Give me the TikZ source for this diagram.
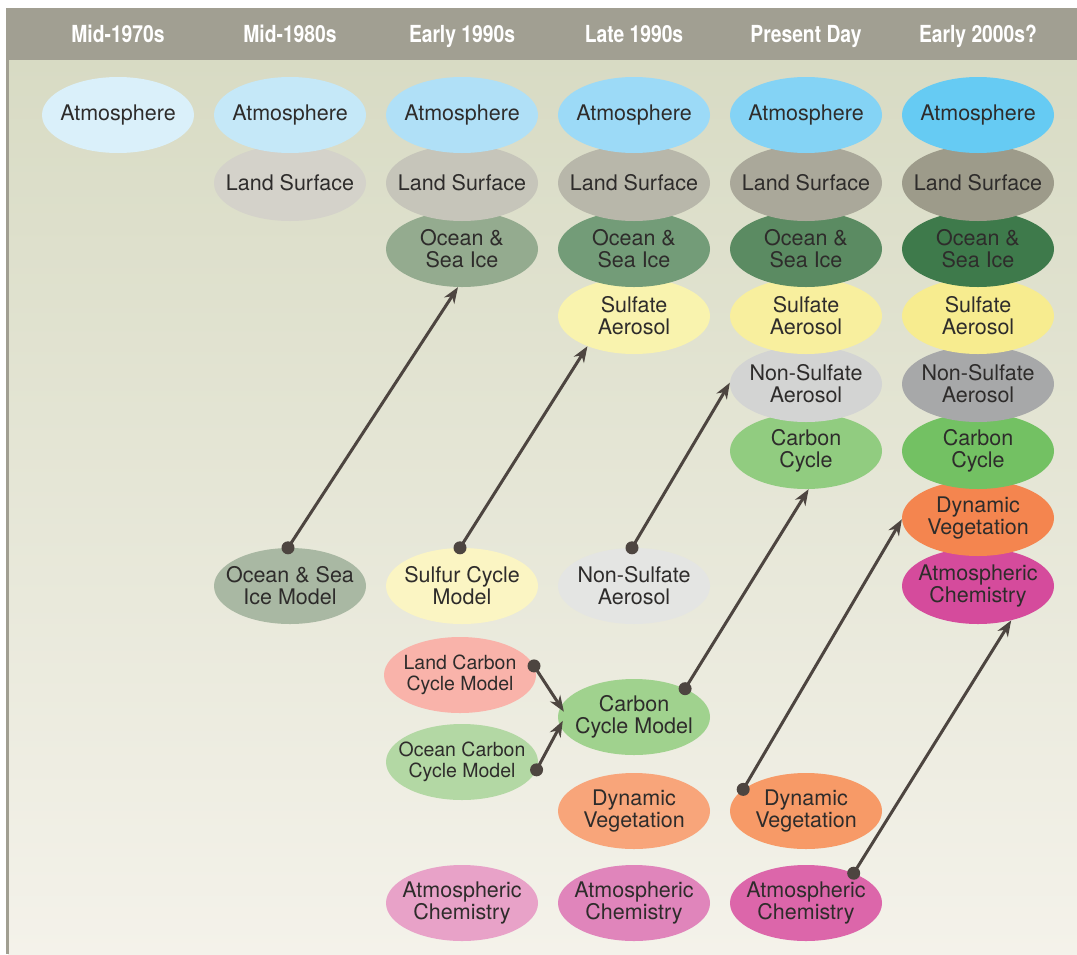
\documentclass[tikz,border=0pt]{standalone}
\usepackage{fontspec}
\setmainfont{TeX Gyre Heros}
\newfontfamily\headfont[FakeStretch=0.82]{TeX Gyre Heros}
\usetikzlibrary{shapes.geometric,arrows.meta}

\definecolor{headgray}{HTML}{A19F92}
\definecolor{bgtop}{HTML}{D8DBC4}
\definecolor{bgbottom}{HTML}{F4F2EA}
\definecolor{txt}{HTML}{2E2C2B}
\definecolor{arrowc}{HTML}{4D4540}
% atmosphere
\definecolor{atmA}{HTML}{DAF0FA}
\definecolor{atmB}{HTML}{C5E8F8}
\definecolor{atmC}{HTML}{B0E0F7}
\definecolor{atmD}{HTML}{9CDAF7}
\definecolor{atmE}{HTML}{84D3F5}
\definecolor{atmF}{HTML}{66CBF3}
% land surface
\definecolor{landB}{HTML}{D4D2CA}
\definecolor{landC}{HTML}{C6C5BA}
\definecolor{landD}{HTML}{B8B7AA}
\definecolor{landE}{HTML}{AAA89A}
\definecolor{landF}{HTML}{9D9B8A}
% ocean
\definecolor{oceanC}{HTML}{94AB8F}
\definecolor{oceanD}{HTML}{739C78}
\definecolor{oceanE}{HTML}{5B8B62}
\definecolor{oceanF}{HTML}{3E7A4B}
% aerosols
\definecolor{sulfD}{HTML}{F9F3AE}
\definecolor{sulfE}{HTML}{F8EF9E}
\definecolor{sulfF}{HTML}{F7EC8F}
\definecolor{nonsulfE}{HTML}{D3D4D3}
\definecolor{nonsulfF}{HTML}{A7A8A9}
% carbon, vegetation, chemistry
\definecolor{carbE}{HTML}{91CC80}
\definecolor{carbF}{HTML}{73C163}
\definecolor{vegD}{HTML}{F8A57A}
\definecolor{vegE}{HTML}{F79A67}
\definecolor{vegF}{HTML}{F4854F}
\definecolor{chemC}{HTML}{E8A2C8}
\definecolor{chemD}{HTML}{E085BB}
\definecolor{chemE}{HTML}{DC66AA}
\definecolor{chemF}{HTML}{D54B9C}
% component models
\definecolor{oceanmodc}{HTML}{A9B8A3}
\definecolor{sulfmodc}{HTML}{FBF5C3}
\definecolor{nonsulfmodc}{HTML}{E4E5E3}
\definecolor{landcarbc}{HTML}{F9B3AA}
\definecolor{oceancarbc}{HTML}{B3D8A4}
\definecolor{carbmodc}{HTML}{A0D28E}

\begin{document}
\begin{tikzpicture}[x=1pt,y=-1pt,
  cell/.style={ellipse, fill=#1, minimum width=152pt, minimum height=76pt,
    inner xsep=-48pt, inner ysep=-6pt, align=center, text=txt,
    font=\fontsize{21.5}{22}\selectfont},
  small/.style={font=\fontsize{19.5}{21}\selectfont},
  era/.style={anchor=base, text=white,
    font=\headfont\bfseries\fontsize{23.5}{25}\selectfont},
  link/.style={draw=arrowc, line width=3pt,
    -{Stealth[length=16pt,width=12pt,inset=5pt]}},
  ]
  \useasboundingbox (0,0) rectangle (1077,954);

  % Fond et bandeau
  \shade[top color=bgtop, bottom color=bgbottom] (8,60) rectangle (1077,954);
  \fill[headgray] (8,8) rectangle (1077,60);
  \fill[headgray] (6,8) rectangle (9,954);

  % Titres des colonnes
  \node[era] (h1) at (118,42) {Mid-1970s};
  \node[era] (h2) at (290,42) {Mid-1980s};
  \node[era] (h3) at (462,42) {Early 1990s};
  \node[era] (h4) at (634,42) {Late 1990s};
  \node[era] (h5) at (806,42) {Present Day};
  \node[era] (h6) at (978,42) {Early 2000s?};

  % Mid-1970s
  \node[cell=atmA] (atm1) at (118,115) {Atmosphere};

  % Mid-1980s
  \node[cell=landB] (land2) at (290,183) {Land Surface};
  \node[cell=atmB] (atm2) at (290,115) {Atmosphere};

  % Early 1990s
  \node[cell=oceanC] (ocean3) at (462,249) {Ocean \&\\Sea Ice};
  \node[cell=landC] (land3) at (462,183) {Land Surface};
  \node[cell=atmC] (atm3) at (462,115) {Atmosphere};

  % Late 1990s
  \node[cell=sulfD] (sulf4) at (634,316) {Sulfate\\Aerosol};
  \node[cell=oceanD] (ocean4) at (634,249) {Ocean \&\\Sea Ice};
  \node[cell=landD] (land4) at (634,183) {Land Surface};
  \node[cell=atmD] (atm4) at (634,115) {Atmosphere};

  % Present Day
  \node[cell=carbE] (carb5) at (806,451) {Carbon\\Cycle};
  \node[cell=nonsulfE] (nonsulf5) at (806,384) {Non-Sulfate\\Aerosol};
  \node[cell=sulfE] (sulf5) at (806,316) {Sulfate\\Aerosol};
  \node[cell=oceanE] (ocean5) at (806,249) {Ocean \&\\Sea Ice};
  \node[cell=landE] (land5) at (806,183) {Land Surface};
  \node[cell=atmE] (atm5) at (806,115) {Atmosphere};

  % Early 2000s?
  \node[cell=chemF] (chem6) at (978,586) {Atmospheric\\Chemistry};
  \node[cell=vegF] (veg6) at (978,518) {Dynamic\\Vegetation};
  \node[cell=carbF] (carb6) at (978,451) {Carbon\\Cycle};
  \node[cell=nonsulfF] (nonsulf6) at (978,384) {Non-Sulfate\\Aerosol};
  \node[cell=sulfF] (sulf6) at (978,316) {Sulfate\\Aerosol};
  \node[cell=oceanF] (ocean6) at (978,249) {Ocean \&\\Sea Ice};
  \node[cell=landF] (land6) at (978,183) {Land Surface};
  \node[cell=atmF] (atm6) at (978,115) {Atmosphere};

  % Modeles separes
  \node[cell=oceanmodc] (oceanmod) at (290,586) {Ocean \& Sea\\Ice Model};
  \node[cell=sulfmodc] (sulfmod) at (462,586) {Sulfur Cycle\\Model};
  \node[cell=nonsulfmodc] (nonsulfmod) at (634,586) {Non-Sulfate\\Aerosol};
  \node[cell=landcarbc, small] (landcarb) at (460,675) {Land Carbon\\Cycle Model};
  \node[cell=oceancarbc, small] (oceancarb) at (462,762) {Ocean Carbon\\Cycle Model};
  \node[cell=carbmodc] (carbmod) at (634,717) {Carbon\\Cycle Model};
  \node[cell=vegD] (veg4) at (634,811) {Dynamic\\Vegetation};
  \node[cell=vegE] (veg5) at (806,811) {Dynamic\\Vegetation};
  \node[cell=chemC] (chem3) at (462,903) {Atmospheric\\Chemistry};
  \node[cell=chemD] (chem4) at (634,903) {Atmospheric\\Chemistry};
  \node[cell=chemE] (chem5) at (806,903) {Atmospheric\\Chemistry};

  % Fleches
  \draw[link] (oceanmod.93) -- (ocean3.264);
  \draw[link] (sulfmod.93) -- (sulf4.213);
  \draw[link] (nonsulfmod.93) -- (nonsulf5.179);
  \draw[link] (carbmod.29) -- (carb5.274);
  \draw[link, shorten >=-6pt] (landcarb.7) -- (carbmod.172);
  \draw[link, shorten >=-6pt] (oceancarb.354) -- (carbmod.187);
  \draw[link] (veg5.161) -- (veg6.181);
  \draw[link] (chem5.32) -- (chem6.314);

  % Points de depart
  \fill[arrowc] (oceanmod.93) circle (6.5pt);
  \fill[arrowc] (sulfmod.93) circle (6.5pt);
  \fill[arrowc] (nonsulfmod.93) circle (6.5pt);
  \fill[arrowc] (carbmod.29) circle (6.5pt);
  \fill[arrowc] (landcarb.7) circle (6.5pt);
  \fill[arrowc] (oceancarb.354) circle (6.5pt);
  \fill[arrowc] (veg5.161) circle (6.5pt);
  \fill[arrowc] (chem5.32) circle (6.5pt);
\end{tikzpicture}
\end{document}
